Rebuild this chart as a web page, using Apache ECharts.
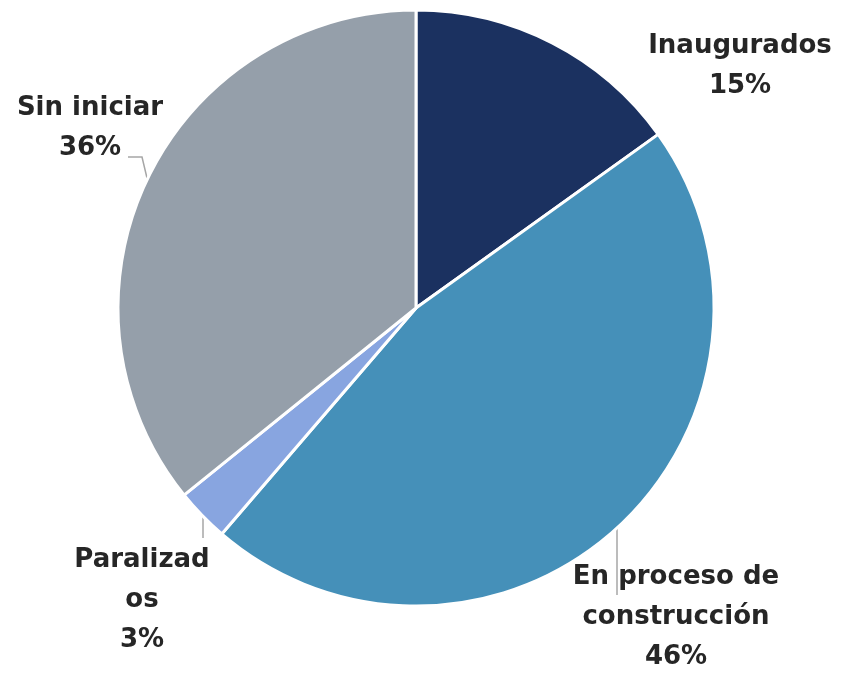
<!DOCTYPE html>
<html>
<head>
<meta charset="utf-8">
<script src="https://cdn.jsdelivr.net/npm/echarts@6/dist/echarts.min.js"></script>
<style>
  html, body { margin: 0; padding: 0; background: #fff; }
  #pieChart { width: 844px; height: 674px; }
</style>
</head>
<body>
<div id="pieChart"></div>
<script>
const categories = ['Inaugurados', 'En proceso de construcción', 'Paralizados', 'Sin iniciar']
const labelNames = ['Inaugurados', 'En proceso de\nconstrucción', 'Paralizad\nos', 'Sin iniciar']
const values = [15.1, 46.2, 2.9, 35.8]
const colors = ['#1B3160', '#4590B9', '#88A5E0', '#959FAA']

// posición de las etiquetas (fuera del pastel)
const labelPos = [
  { x: 740, y: 66, line: null },
  { x: 676, y: 617, line: [[617, 528], [617, 560], [617, 595]] },
  { x: 142, y: 600, line: [[203, 516], [203, 527], [203, 538]] },
  { x: 90, y: 128, line: [[147, 178], [142, 157], [128, 157]] }
]

const chart = echarts.init(document.getElementById('pieChart'))

const seriesData = categories.map((name, i) => ({
  name: name,
  value: values[i],
  itemStyle: { color: colors[i] },
  labelLine: { show: labelPos[i].line !== null }
}))

chart.setOption({
  backgroundColor: '#fff',
  animation: false,
  series: [{
    type: 'pie',
    center: [416, 308],
    radius: [0, 298],
    startAngle: 90,
    clockwise: true,
    itemStyle: {
      borderColor: '#fff',
      borderWidth: 3
    },
    label: {
      show: true,
      position: 'outside',
      color: '#262626',
      fontFamily: 'DejaVu Sans',
      fontWeight: 'bold',
      fontSize: 26,
      lineHeight: 40,
      align: 'center',
      overflow: 'none',
      formatter: function (p) {
        return labelNames[p.dataIndex] + '\n' + Math.round(p.value) + '%'
      }
    },
    labelLine: {
      show: true,
      lineStyle: { color: '#A6A6A6', width: 1.5 }
    },
    labelLayout: function (params) {
      const pos = labelPos[params.dataIndex]
      const out = { x: pos.x, y: pos.y, align: 'center', verticalAlign: 'middle' }
      if (pos.line) out.labelLinePoints = pos.line
      return out
    },
    data: seriesData
  }]
})
</script>
</body>
</html>
